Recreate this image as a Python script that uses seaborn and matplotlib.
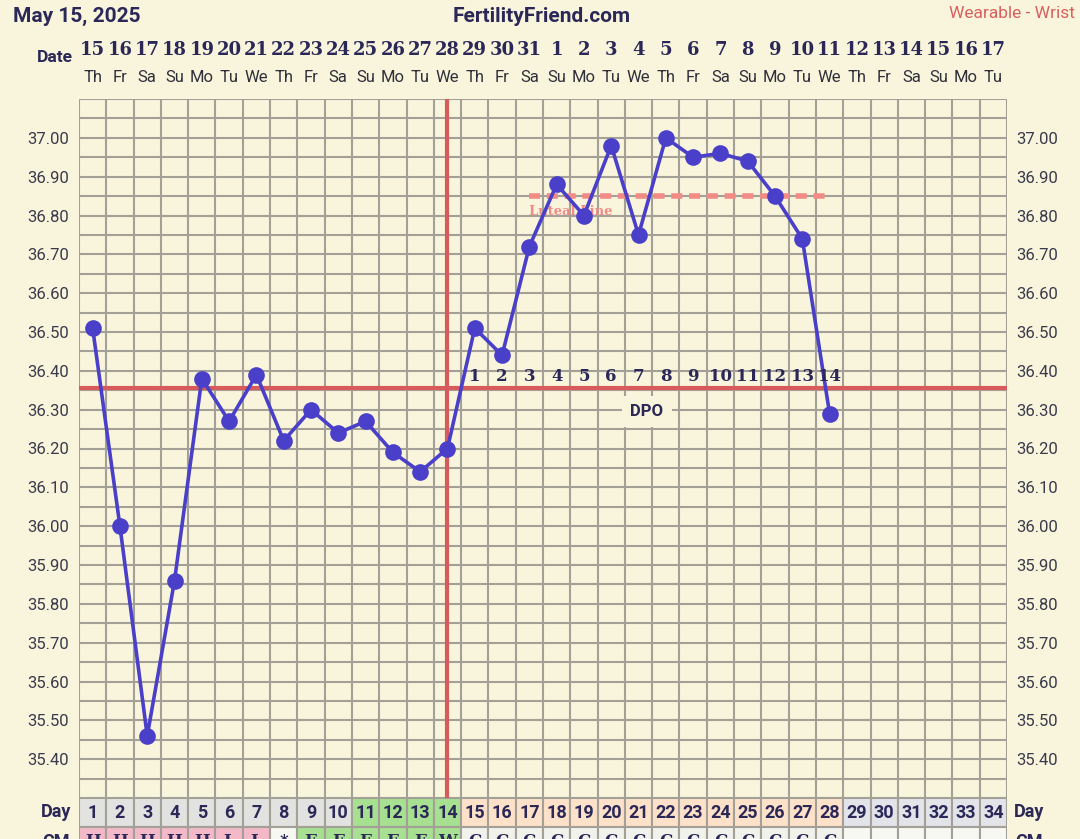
import numpy as np
import pandas as pd
import matplotlib
matplotlib.use("Agg")
import matplotlib.pyplot as plt
import matplotlib.transforms as mtransforms
import seaborn as sns

# data
cycle_days = list(range(1, 35))
dates = [str(d) for d in range(15, 32)] + [str(d) for d in range(1, 18)]
weekdays = ["Th", "Fr", "Sa", "Su", "Mo", "Tu", "We"] * 5
weekdays = weekdays[:34]
temps = [36.51, 36.00, 35.46, 35.86, 36.38, 36.27, 36.39, 36.22, 36.30, 36.24,
         36.27, 36.19, 36.14, 36.20, 36.51, 36.44, 36.72, 36.88, 36.80, 36.98,
         36.75, 37.00, 36.95, 36.96, 36.94, 36.85, 36.74, 36.29]
cm_codes = ["H", "H", "H", "H", "H", "L", "L", "*", "E", "E", "E", "E", "E", "W"] + ["C"] * 14 + [""] * 6
ovulation_day = 14
coverline = 36.355
luteal_level = 36.85
luteal_start, luteal_end = 17, 28
dpo_labels = [str(i) for i in range(1, 15)]

BG = "#f9f5dc"
GRID = "#a3a197"
NAVY = "#2b2858"
RED = "#d85b5b"
SALMON = "#f28b86"
LINE = "#4a3fc9"

sns.set_theme(style="white")
plt.rcParams["font.family"] = ["Roboto", "DejaVu Sans"]

W, H = 1080, 839
fig = plt.figure(figsize=(W / 100, H / 100), dpi=100, facecolor=BG)

def fx(px):
    return px / W

def fy(py):
    return 1 - py / H

left, right, top, bottom = 79, 1007, 99, 798
ax = fig.add_axes([fx(left), fy(bottom), fx(right - left), fy(top) - fy(bottom)])
ax.set_facecolor(BG)
ax.set_xlim(0.5, 34.5)
ax.set_ylim(35.30, 37.10)

# grid
for x in np.arange(0.5, 35, 1):
    ax.axvline(x, color=GRID, lw=1.5, zorder=1)
for y in np.arange(35.30, 37.11, 0.05):
    ax.axhline(y, color=GRID, lw=1.5, zorder=1)
for s in ax.spines.values():
    s.set_visible(False)

ax.set_xticks([])
yt = np.round(np.arange(35.40, 37.001, 0.10), 2)
ax.set_yticks(yt)
ax.set_yticklabels([f"{v:.2f}" for v in yt])
ax.tick_params(axis="y", length=0, pad=7, labelsize=12, labelcolor="#3a3a4c",
               left=True, right=True, labelleft=True, labelright=True)

# lines
ax.axvline(ovulation_day, color=RED, lw=3, zorder=3)
ax.axhline(coverline, color=RED, lw=3, zorder=3)
ax.hlines(luteal_level, luteal_start, luteal_end, colors=SALMON, lw=4,
          linestyles=(0, (2, 1.2)), zorder=3)
ax.text(luteal_start, luteal_level - 0.04, "Luteal Line", color=SALMON,
        fontsize=9.5, fontweight="bold", family="DejaVu Serif", ha="left", va="center", zorder=4)

df = pd.DataFrame({"day": cycle_days[:len(temps)], "temp": temps})
sns.lineplot(data=df, x="day", y="temp", ax=ax, color=LINE, lw=2.6, marker="o",
             markersize=12, markeredgewidth=0, zorder=5)
ax.set_xlabel("")
ax.set_ylabel("")

# DPO labels
for i, lab in enumerate(dpo_labels):
    ax.text(ovulation_day + 1 + i, 36.385, lab, color=NAVY, fontsize=12,
            fontweight="bold", family="DejaVu Serif", ha="center", va="center", zorder=6)
ax.text(21.3, 36.295, "DPO", color=NAVY, fontsize=12, fontweight="bold",
        ha="center", va="center", zorder=4,
        bbox=dict(boxstyle="square,pad=0.5", fc=BG, ec="none"))

# header
fig.text(fx(13), fy(16), "May 15, 2025", color=NAVY, fontsize=15, fontweight="bold",
         ha="left", va="center")
fig.text(fx(542), fy(16), "FertilityFriend.com", color=NAVY, fontsize=15,
         fontweight="bold", ha="center", va="center")
fig.text(fx(1075), fy(14), "Wearable - Wrist", color="#d9605f", fontsize=12.5,
         ha="right", va="center")

# date row above
tr = mtransforms.blended_transform_factory(ax.transData, fig.transFigure)
fig.text(fx(55), fy(57), "Date", color=NAVY, fontsize=12.5, fontweight="bold",
         ha="center", va="center")
for d, dt, wd in zip(cycle_days, dates, weekdays):
    ax.text(d, fy(50), dt, transform=tr, color=NAVY, fontsize=13, fontweight="bold",
            family="DejaVu Serif", ha="center", va="center", clip_on=False)
    ax.text(d, fy(77), wd, transform=tr, color="#2f2f3a", fontsize=12,
            ha="center", va="center", clip_on=False)

# bottom strip: Day row and CM row
ax2 = fig.add_axes([fx(left), fy(bottom + 58), fx(right - left), 58 / H])
ax2.set_xlim(0.5, 34.5)
ax2.set_ylim(0, 2)
ax2.axis("off")
day_colors = ["#e2e2e0"] * 10 + ["#a7e090"] * 4 + ["#fde2c9"] * 14 + ["#e3e3ea"] * 6
cm_colors = ["#f4b9c9"] * 7 + ["#f8f8f2"] + ["#a7e090"] * 6 + ["#f2f2ec"] * 14 + ["#f8f8f2"] * 6
ax2.bar(cycle_days, 1, bottom=1, width=1, color=day_colors, edgecolor=GRID, lw=1.5)
ax2.bar(cycle_days, 1, bottom=0, width=1, color=cm_colors, edgecolor=GRID, lw=1.5)
for d, c in zip(cycle_days, cm_codes):
    ax2.text(d, 1.5, str(d), color=NAVY, fontsize=13, fontweight="bold",
             ha="center", va="center")
    if c:
        ax2.text(d, 0.5, c, color=NAVY, fontsize=12, fontweight="bold",
                 family="DejaVu Serif", ha="center", va="center")
fig.text(fx(56), fy(812), "Day", color=NAVY, fontsize=13, fontweight="bold",
         ha="center", va="center")
fig.text(fx(1029), fy(812), "Day", color=NAVY, fontsize=13, fontweight="bold",
         ha="center", va="center")
fig.text(fx(56), fy(842), "CM", color=NAVY, fontsize=13, fontweight="bold",
         ha="center", va="center")
fig.text(fx(1029), fy(842), "CM", color=NAVY, fontsize=13, fontweight="bold",
         ha="center", va="center")

fig.savefig("out.png", dpi=100, facecolor=BG)
